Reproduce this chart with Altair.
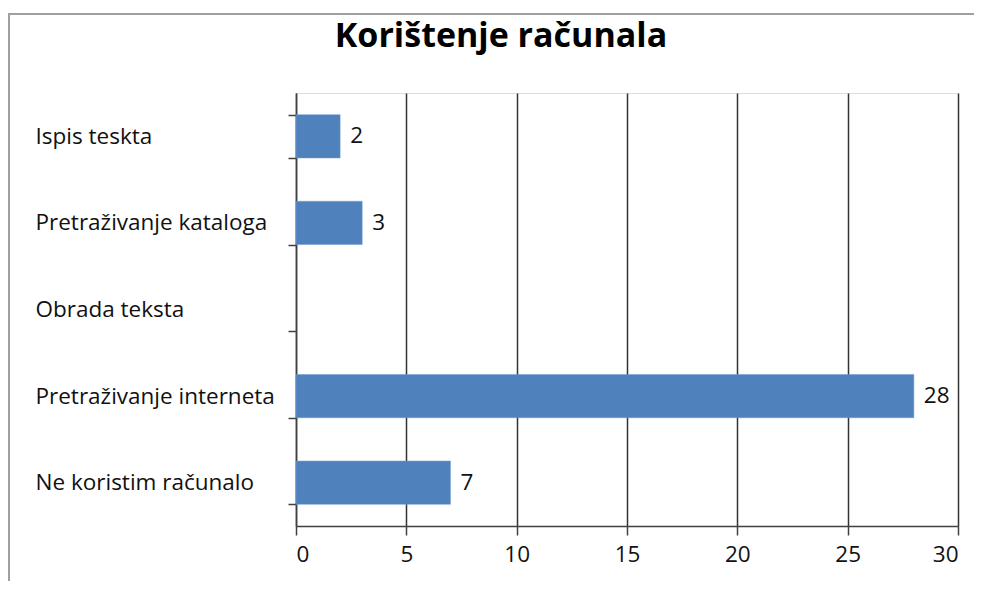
import altair as alt
import pandas as pd

categories = ["Ispis teskta", "Pretraživanje kataloga", "Obrada teksta",
              "Pretraživanje interneta", "Ne koristim računalo"]
values = [2, 3, None, 28, 7]
x_ticks = [0, 5, 10, 15, 20, 25, 30]
title_text = "Korištenje računala"

df = pd.DataFrame({"kategorija": categories, "broj": values})

W, H = 662, 433
FONT = "Open Sans"
LFS = 22.5

y_enc = alt.Y("kategorija:N", sort=categories, title=None,
              scale=alt.Scale(paddingInner=0.5, paddingOuter=0.25),
              axis=alt.Axis(tickBand="extent", tickSize=8, tickColor="#404040",
                            tickWidth=1.5, domainColor="#404040", domainWidth=1.5,
                            labelAlign="left", labelPadding=253, labelLimit=300,
                            labelFont=FONT, labelFontSize=LFS, labelColor="#111111",
                            grid=False))
x_enc = alt.X("broj:Q", title=None,
              scale=alt.Scale(domain=[0, 30], nice=False),
              axis=alt.Axis(values=x_ticks, grid=True, gridColor="#333333",
                            gridWidth=1.5, tickSize=9, tickColor="#404040",
                            tickWidth=1.5, domainColor="#404040", domainWidth=1.5,
                            labelFont=FONT, labelFontSize=LFS, labelColor="#111111",
                            labelPadding=8))

bars = alt.Chart(df).mark_bar(color="#4F81BD", stroke="#6f9bd0",
                              strokeWidth=0.5).encode(x=x_enc, y=y_enc)
labels = alt.Chart(df).transform_filter("datum.broj != null").mark_text(
    align="left", baseline="middle", dx=10, font=FONT, fontSize=LFS,
    color="#111111").encode(x="broj:Q", y=alt.Y("kategorija:N", sort=categories),
                            text="broj:Q")

title = alt.Chart(pd.DataFrame({"t": [title_text]})).mark_text(
    align="center", baseline="alphabetic", font=FONT, fontSize=34,
    fontWeight="bold", color="#000000", clip=False).encode(
    x=alt.value(205), y=alt.value(-46), text="t:N")

frame_top = alt.Chart(df).mark_rule(color="#a0a0a0", strokeWidth=1.5, clip=False).encode(
    x=alt.value(-288), x2=alt.value(W + 20), y=alt.value(-79))
frame_left = alt.Chart(df).mark_rule(color="#a0a0a0", strokeWidth=1.5, clip=False).encode(
    x=alt.value(-287), y=alt.value(-79), y2=alt.value(H + 60))

chart = alt.layer(frame_top, frame_left, title, bars, labels).properties(
    width=W, height=H,
    padding={"left": 288, "top": 85, "right": 16, "bottom": 55},
    autosize=alt.AutoSizeParams(type="none"),
).configure_view(stroke="#d9d9d9", strokeWidth=1).configure(background="white")

chart.save("out.html", embed_options={"renderer": "svg", "actions": False})
